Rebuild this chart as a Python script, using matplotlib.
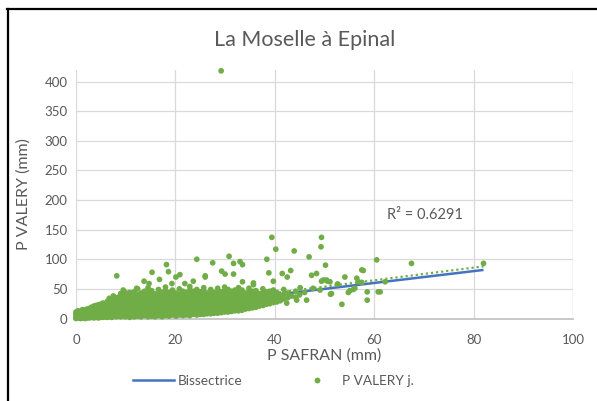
import numpy as np
import matplotlib
matplotlib.use("Agg")
import matplotlib.pyplot as plt
from matplotlib.lines import Line2D

plt.rcParams['font.family'] = ['Lato', 'DejaVu Sans']

GREEN = "#70AD47"
BLUE = "#4472C4"
GRID = "#D9D9D9"
TXT = "#595959"

TITLE = "La Moselle à Epinal"
X_LABEL = "P SAFRAN (mm)"
Y_LABEL = "P VALERY (mm)"
R2_TEXT = "R² = 0.6291"

# dense cloud, read column by column (x of column, y values in that column)
col_x = [0.0, 0.4, 0.9, 1.3, 1.8, 2.2, 2.7, 3.1, 3.6, 4.0, 4.5, 4.9, 5.4, 5.8,
         6.3, 6.7, 7.2, 7.6, 8.1, 8.5, 9.0, 9.4, 9.9, 10.3, 10.8, 11.2, 11.7,
         12.4, 13.1, 13.8, 14.5, 15.2, 15.9, 16.6, 17.3, 18.0, 18.7, 19.4,
         20.1, 20.8, 21.5, 22.2, 22.9, 23.6, 24.3, 25.0, 25.7, 26.4, 27.1,
         27.8, 28.5, 29.2, 29.9, 30.6, 31.3, 32.0, 32.7, 33.4, 34.1, 34.8,
         35.5, 36.2, 36.9, 37.6, 38.3, 39.0, 39.7, 40.4, 41.1, 41.8, 42.6,
         43.4, 44.2, 45.0, 46.0]
col_y = [
    [0, 2, 5, 8, 11], [1, 4, 7, 10, 13], [0, 3, 6, 9, 12], [1, 4, 8, 11, 15],
    [0, 3, 7, 10, 14], [1, 5, 9, 13, 16], [1, 4, 8, 12, 17], [2, 6, 10, 14, 19],
    [1, 5, 9, 14, 18, 21], [2, 7, 11, 16, 22], [1, 6, 11, 16, 20, 23],
    [2, 8, 13, 18, 24], [2, 7, 12, 17, 22, 26], [3, 9, 14, 20, 25],
    [2, 8, 13, 19, 24, 29], [3, 10, 16, 22, 28, 34], [2, 8, 14, 20, 26, 31],
    [4, 11, 17, 23, 30, 37], [3, 9, 15, 22, 28, 34], [4, 11, 18, 24, 31, 36],
    [3, 9, 16, 23, 30, 36, 42], [5, 12, 19, 26, 33, 39],
    [3, 10, 17, 24, 31, 38, 44], [5, 12, 19, 26, 33, 40],
    [2, 9, 16, 23, 30, 37, 44], [5, 12, 19, 27, 34, 41],
    [3, 10, 17, 24, 31, 38, 45], [4, 11, 18, 26, 33, 40, 50],
    [3, 9, 16, 23, 30, 37, 43], [5, 12, 20, 27, 34, 41, 46],
    [3, 10, 17, 24, 31, 38, 44, 52], [4, 12, 19, 26, 33, 40, 47],
    [3, 9, 16, 23, 30, 37, 42], [5, 12, 20, 27, 34, 41, 49],
    [3, 10, 17, 24, 31, 38, 44], [5, 12, 19, 26, 33, 40, 47, 53],
    [4, 11, 18, 25, 32, 39, 44], [6, 13, 20, 27, 34, 41, 48],
    [4, 11, 18, 25, 32, 39, 43], [6, 13, 20, 27, 34, 41, 50],
    [5, 12, 19, 26, 33, 40, 46], [6, 13, 20, 27, 34, 41, 44],
    [5, 12, 19, 26, 33, 40, 48, 54], [7, 14, 21, 28, 35, 42, 46],
    [6, 13, 20, 27, 34, 41, 49], [7, 14, 21, 28, 35, 42, 45],
    [7, 14, 21, 28, 35, 41, 47, 52], [8, 15, 22, 29, 36, 43],
    [8, 15, 22, 29, 36, 42, 49], [9, 16, 23, 30, 37, 44],
    [9, 16, 23, 30, 37, 43, 51], [10, 17, 24, 31, 38, 45],
    [11, 18, 25, 32, 39, 46, 53], [11, 18, 25, 32, 39, 44, 49],
    [12, 19, 26, 33, 40, 46], [13, 20, 27, 34, 41, 48],
    [13, 20, 27, 34, 40, 45, 52], [14, 21, 28, 35, 42, 48],
    [16, 22, 29, 36, 43], [17, 24, 31, 38, 45, 51], [18, 25, 32, 39, 46],
    [19, 26, 33, 40, 47], [21, 28, 35, 42], [22, 29, 36, 43, 50],
    [24, 31, 38, 45], [25, 32, 39, 46], [27, 34, 41, 48], [28, 36, 44],
    [30, 38], [33, 41, 49], [35, 43], [38], [36, 46], [40],
    [44]]

# scattered points above / beside the cloud
out_x = [8.2, 24.3, 18.2, 18.6, 15.3, 16.8, 13.7, 14.7, 20.9, 20.1, 19.3, 21.9,
         23.6, 26.0, 9.5, 7.5, 12.2, 39.4, 49.4, 49.3, 40.2, 43.9, 38.4, 46.9,
         30.8, 27.5, 31.7, 33.0, 33.5, 50.2, 29.3, 30.0, 31.7, 38.8, 41.5, 43.2,
         42.5, 33.5, 47.4, 48.4, 49.4, 50.6, 35.7, 35.7, 39.7, 52.6, 45.1, 47.7,
         49.1, 51.2, 42.4, 44.4, 46.4, 60.5, 67.5, 57.5, 57.8, 54.1, 52.7, 56.5,
         56.8, 57.5, 62.2, 55.1, 55.8, 54.8, 58.6, 60.8, 61.2, 58.6, 53.5, 51.4,
         51.1, 56.1, 50.4, 49.8, 26.0, 82.0, 29.2]
out_y = [72, 100, 91, 79, 78, 66, 63, 59, 74, 70, 59, 59,
         63, 72, 48, 38, 51, 137, 137, 121, 117, 114, 100, 104,
         105, 94, 93, 96, 91, 90, 80, 75, 75, 77, 76, 81,
         70, 62, 73, 76, 63, 63, 60, 57, 63, 58, 52, 51,
         48, 41, 26, 31, 31, 99, 93, 82, 81, 70, 58, 68,
         62, 61, 62, 47, 49, 44, 45, 45, 45, 31, 24, 42,
         62, 51, 65, 65, 70, 93, 418]

bis_x = [0, 82]
bis_y = [0, 82]

# linear trend
trend_slope = 1.07
trend_intercept = 0.3
trend_x = [0, 82]

x_ticks = [0, 20, 40, 60, 80, 100]
y_ticks = [0, 50, 100, 150, 200, 250, 300, 350, 400]

pts_x = []
pts_y = []
for cx, ys in zip(col_x, col_y):
    for yv in ys:
        pts_x.append(cx)
        pts_y.append(yv)
pts_x += out_x
pts_y += out_y

fig = plt.figure(figsize=(5.97, 4.01), dpi=100)
ax = fig.add_axes([0.1273, 0.2057, 0.8325, 0.6206])

ax.plot(bis_x, bis_y, color=BLUE, lw=1.8, zorder=3, solid_capstyle='butt')
ax.scatter(pts_x, pts_y, s=17, color=GREEN, edgecolors='none', zorder=4, clip_on=False)
ty = [trend_slope * v + trend_intercept for v in trend_x]
ax.plot(trend_x, ty, color=GREEN, lw=1.6, linestyle=(0, (1, 1.3)), zorder=5)

ax.set_xlim(0, 100)
ax.set_ylim(0, 420)
ax.set_xticks(x_ticks)
ax.set_yticks(y_ticks)
ax.grid(True, color=GRID, lw=0.9)
ax.set_axisbelow(True)
ax.axvline(100, color=GRID, lw=0.9, zorder=0)
for s in ['top', 'right', 'left']:
    ax.spines[s].set_visible(False)
ax.spines['bottom'].set_color("#BFBFBF")
ax.spines['bottom'].set_linewidth(1.2)
ax.tick_params(length=0, labelsize=9.5, labelcolor=TXT)
ax.tick_params(axis='x', pad=11)
ax.tick_params(axis='y', pad=6)

ax.set_xlabel(X_LABEL, fontsize=11.5, color=TXT, labelpad=1.5)
ax.set_ylabel(Y_LABEL, fontsize=11.5, color=TXT, labelpad=10)
fig.text(0.511, 0.90, TITLE, fontsize=15.5, color=TXT, ha='center', va='center')
ax.text(62.6, 175, R2_TEXT, fontsize=10.5, color=TXT, ha='left', va='center')

handles = [Line2D([0], [0], color=BLUE, lw=1.8),
           Line2D([0], [0], marker='o', color=GREEN, lw=0, markersize=4.2, markeredgewidth=0)]
fig.legend(handles, ["Bissectrice", "P VALERY j."], loc='center', bbox_to_anchor=(0.458, 0.05),
           ncol=2, frameon=False, fontsize=9.8, labelcolor=TXT, columnspacing=4.0,
           handlelength=3.0, handletextpad=0.3)

fig.add_artist(Line2D([0.0134, 0.0134], [0, 0.978], color='black', lw=1.6, transform=fig.transFigure))
fig.add_artist(Line2D([0.0117, 1.0], [0.977, 0.977], color='black', lw=1.6, transform=fig.transFigure))

fig.savefig("out.png", dpi=100, facecolor='white')
